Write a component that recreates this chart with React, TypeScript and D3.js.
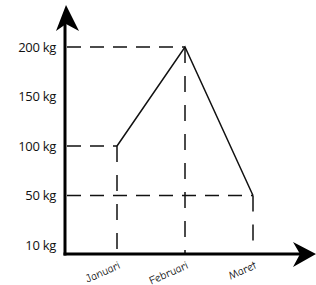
import React, { useEffect, useRef } from 'react';
import * as d3 from 'd3';

const months = ['Januari', 'Februari', 'Maret'];
const weights = [100, 200, 50];
const tickValues = [10, 50, 100, 150, 200];

const App = () => {
  const ref = useRef<SVGSVGElement>(null);

  useEffect(() => {
    const svg = d3.select(ref.current);
    svg.selectAll('*').remove();

    const originX = 65;
    const originY = 254;

    const x = d3.scalePoint<string>().domain(months).range([117, 253]);
    const y = d3.scalePoint<number>().domain(tickValues).range([245, 47]);

    const data = months.map((m, i) => ({ month: m, value: weights[i] }));

    const g = svg.append('g');

    // dashed guides
    data.forEach(d => {
      g.append('line')
        .attr('x1', originX + 2).attr('x2', x(d.month)!)
        .attr('y1', y(d.value)!).attr('y2', y(d.value)!)
        .attr('stroke', '#111').attr('stroke-width', 1.5)
        .attr('stroke-dasharray', '14 9');
      g.append('line')
        .attr('x1', x(d.month)!).attr('x2', x(d.month)!)
        .attr('y1', y(d.value)!).attr('y2', originY)
        .attr('stroke', '#111').attr('stroke-width', 1.5)
        .attr('stroke-dasharray', '16 13');
    });

    // line
    const line = d3.line<{ month: string; value: number }>()
      .x(d => x(d.month)!)
      .y(d => y(d.value)!);
    g.append('path')
      .datum(data)
      .attr('d', line)
      .attr('fill', 'none')
      .attr('stroke', '#111')
      .attr('stroke-width', 1.5);

    // axes
    g.append('line')
      .attr('x1', originX).attr('x2', originX)
      .attr('y1', originY + 1.5).attr('y2', 22)
      .attr('stroke', '#000').attr('stroke-width', 3);
    g.append('path')
      .attr('d', `M${originX + 1},5 L${originX + 14},31 L${originX + 1},24 L${originX - 9},31 Z`)
      .attr('fill', '#000');

    g.append('line')
      .attr('x1', originX - 1.5).attr('x2', 302)
      .attr('y1', originY).attr('y2', originY)
      .attr('stroke', '#000').attr('stroke-width', 3);
    g.append('path')
      .attr('d', `M316,${originY} L293,${originY - 12} L300,${originY} L293,${originY + 13} Z`)
      .attr('fill', '#000');

    // y labels
    g.selectAll('.ylab')
      .data(tickValues)
      .enter()
      .append('text')
      .attr('x', 56)
      .attr('y', d => y(d)!)
      .attr('dy', '0.35em')
      .attr('text-anchor', 'end')
      .attr('font-family', 'Open Sans, sans-serif')
      .attr('font-size', 13)
      .attr('letter-spacing', '-0.3')
      .attr('fill', '#111')
      .text(d => `${d} kg`);

    // x labels
    g.selectAll('.xlab')
      .data(months)
      .enter()
      .append('text')
      .attr('transform', d => `translate(${x(d)! + 4},${originY + 14}) rotate(-24)`)
      .attr('text-anchor', 'end')
      .attr('font-family', '"Comic Sans MS", "Comic Neue", Lato, sans-serif')
      .attr('font-size', 11.5)
      .attr('fill', '#111')
      .text(d => d);
  }, []);

  return (
    <svg ref={ref} width={316} height={285}
      style={{ position: 'absolute', left: 0, top: 0, background: '#fff' }} />
  );
};

export default App;
